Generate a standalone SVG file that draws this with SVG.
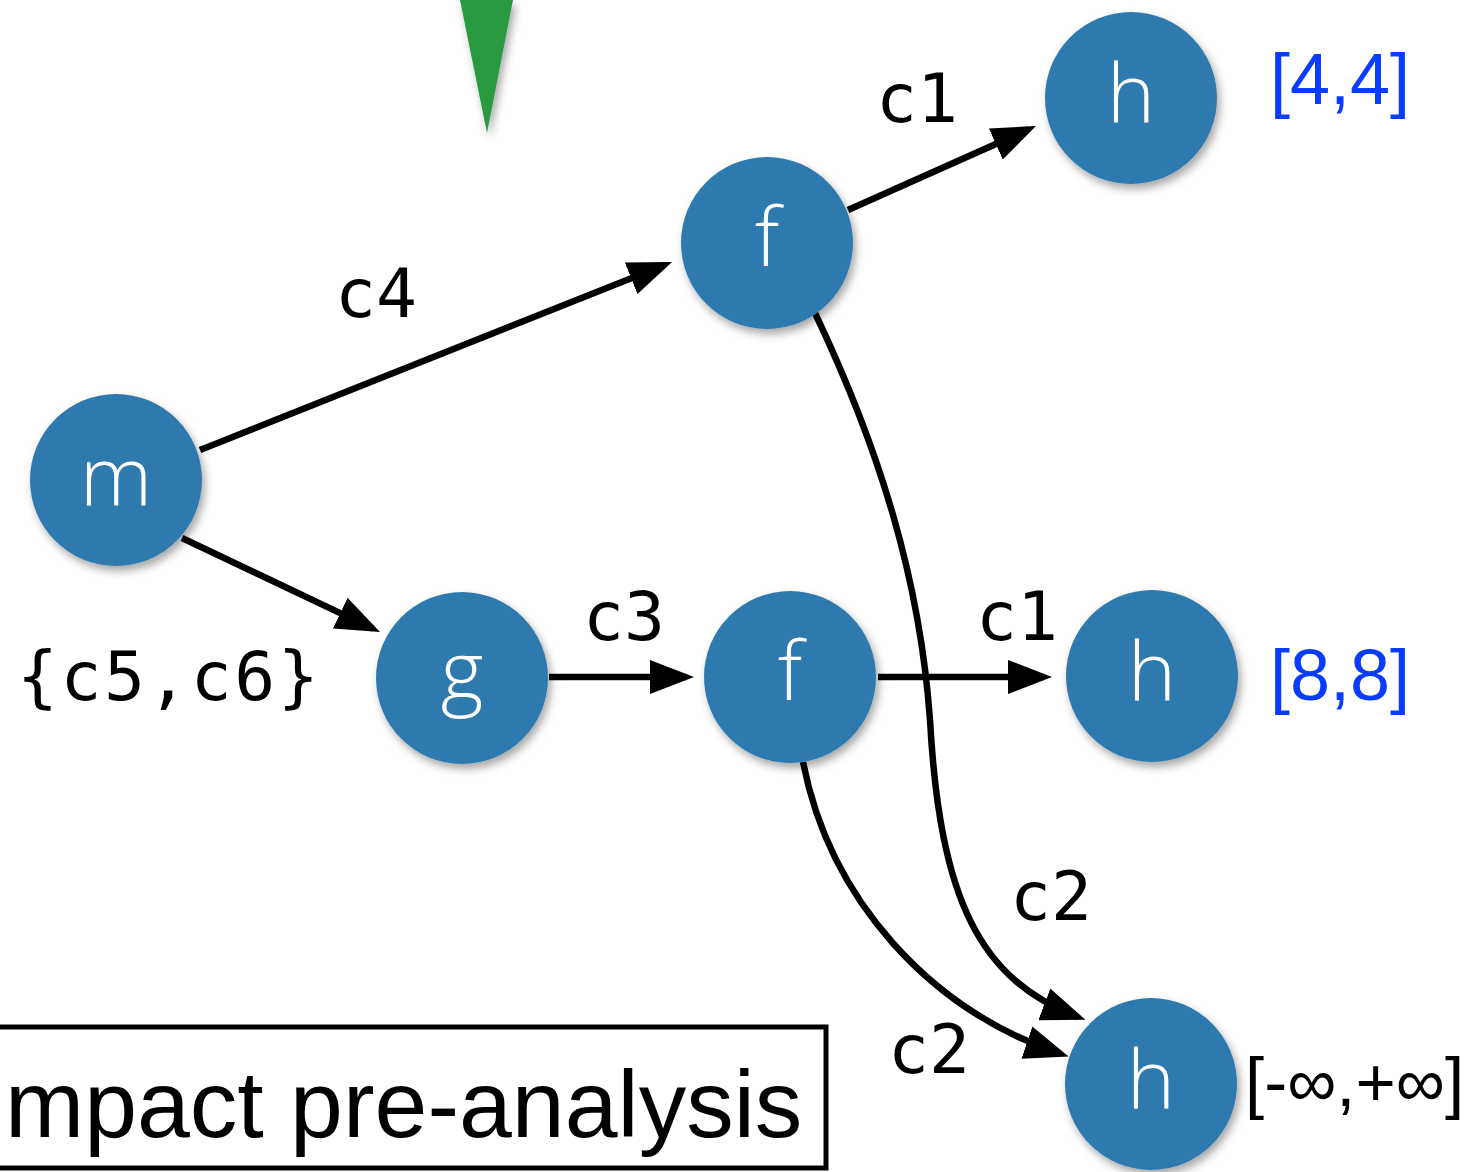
<svg xmlns="http://www.w3.org/2000/svg" width="1471" height="1172" viewBox="0 0 1471 1172">
<style>
.node{fill:#2f7aae;filter:url(#sh)}
.nl{font-family:"Open Sans","Liberation Sans",sans-serif;font-weight:300;font-size:82px;fill:#fff;text-anchor:middle}
.el{font-family:"DejaVu Sans Mono","Liberation Mono",monospace;font-size:68px;fill:#000}
.iv{font-family:"Liberation Sans",Arial,sans-serif;font-size:72px;fill:#0a3cff}
.edge{fill:none;stroke:#000;stroke-width:6.5;marker-end:url(#ah)}
</style>
<defs>
<filter id="sh" x="-20%" y="-20%" width="150%" height="150%">
<feDropShadow dx="3" dy="5" stdDeviation="4" flood-color="#000" flood-opacity="0.35"/>
</filter>
<marker id="ah" markerUnits="userSpaceOnUse" markerWidth="44" markerHeight="34" viewBox="0 0 44 34" refX="36" refY="17" orient="auto">
<path d="M0,0 L44,17 L0,34 z" fill="#000"/>
</marker>
</defs>
<rect width="1471" height="1172" fill="#fff"/>
<polygon points="460,0 513,0 487,133" fill="#2b9a40" filter="url(#sh)"/>
<g id="connectors">
<line class="edge" x1="200" y1="450" x2="664.6" y2="265"/>
<line class="edge" x1="848" y1="210" x2="1028.7" y2="129.3"/>
<line class="edge" x1="182" y1="538" x2="372.8" y2="628.6"/>
<line class="edge" x1="549" y1="677" x2="686" y2="677"/>
<line class="edge" x1="878" y1="677" x2="1044" y2="677"/>
<path class="edge" d="M815,313 C880,450 920,580 930,720 C940,900 980,980 1078,1017"/>
<path class="edge" d="M803,762 C830,900 930,1010 1061,1054"/>
</g>
<g id="node-m"><circle class="node" cx="116" cy="480" r="86"/><text class="nl" x="116" y="505">m</text></g>
<g id="node-f1"><circle class="node" cx="767" cy="243" r="86"/><text class="nl" x="767" y="266">f</text></g>
<g id="node-h1"><circle class="node" cx="1131" cy="98" r="86"/><text class="nl" x="1131" y="122">h</text></g>
<g id="node-g"><circle class="node" cx="462" cy="678" r="86"/><text class="nl" x="462" y="700">g</text></g>
<g id="node-f2"><circle class="node" cx="790" cy="677" r="86"/><text class="nl" x="790" y="700">f</text></g>
<g id="node-h2"><circle class="node" cx="1152" cy="676" r="86"/><text class="nl" x="1152" y="700">h</text></g>
<g id="node-h3"><circle class="node" cx="1151" cy="1084" r="86"/><text class="nl" x="1151" y="1108">h</text></g>
<g id="labels">
<text class="el" x="335" y="317">c4</text>
<text class="el" x="876" y="122">c1</text>
<text class="el" x="583" y="640">c3</text>
<text class="el" x="976" y="640">c1</text>
<text class="el" x="1010" y="920">c2</text>
<text class="el" x="888" y="1073">c2</text>
<text class="el" x="17" y="700" font-size="70" letter-spacing="2.5">{c5,c6}</text>
<text class="iv" x="1270" y="104">[4,4]</text>
<text class="iv" x="1270" y="700">[8,8]</text>
<text x="1245" y="1106" font-family="Liberation Sans,Arial,sans-serif" font-size="69" fill="#000">[-∞,+∞]</text>
</g>
<g id="title">
<rect x="-20" y="1027" width="846" height="141" fill="none" stroke="#000" stroke-width="5"/>
<text x="5" y="1137" font-family="Liberation Sans,Arial,sans-serif" font-size="95" fill="#000">mpact pre-analysis</text>
</g>
</svg>
